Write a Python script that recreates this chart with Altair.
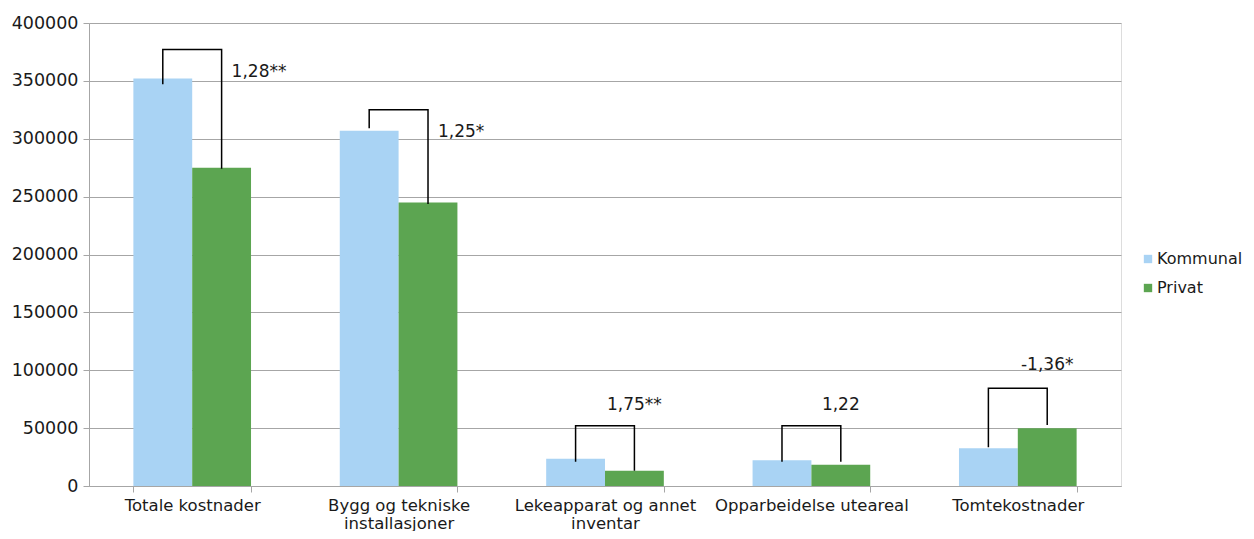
import altair as alt
import pandas as pd

categories = ["Totale kostnader", "Bygg og tekniske installasjoner",
              "Lekeapparat og annet inventar", "Opparbeidelse uteareal", "Tomtekostnader"]
label_lines = {
    "Bygg og tekniske installasjoner": ["Bygg og tekniske", "installasjoner"],
    "Lekeapparat og annet inventar": ["Lekeapparat og annet", "inventar"],
}
series = ["Kommunal", "Privat"]
kommunal = [352000, 307000, 23600, 22200, 32600]
privat = [275000, 245000, 13200, 18400, 50000]

# significance brackets: left foot, top, right foot
bracket_left = [347000, 309000, 21000, 21000, 33400]
bracket_top = [377000, 325000, 52000, 52000, 84400]
bracket_right = [274000, 243600, 13200, 21000, 52700]
ann_text = ["1,28**", "1,25*", "1,75**", "1,22", "-1,36*"]
ann_y = [357700, 305800, 70000, 70000, 104500]
ann_style = ["side", "side", "above", "above", "above"]

BLUE = "#A9D3F4"
GREEN = "#5CA551"
GRID = "#A6A6A6"
FONT = "DejaVu Sans"
FS = 17

bars = pd.DataFrame(
    [{"cat": c, "serie": "Kommunal", "v": k} for c, k in zip(categories, kommunal)]
    + [{"cat": c, "serie": "Privat", "v": p} for c, p in zip(categories, privat)]
)

rows = []
for i, c in enumerate(categories):
    rows += [
        {"cat": c, "serie": "Kommunal", "y": bracket_left[i], "o": 0, "g": i},
        {"cat": c, "serie": "Kommunal", "y": bracket_top[i], "o": 1, "g": i},
        {"cat": c, "serie": "Privat", "y": bracket_top[i], "o": 2, "g": i},
        {"cat": c, "serie": "Privat", "y": bracket_right[i], "o": 3, "g": i},
    ]
brackets = pd.DataFrame(rows)

ann = pd.DataFrame({"cat": categories, "serie": "Privat", "t": ann_text, "y": ann_y, "s": ann_style})

expr = "datum.label"
for k, v in label_lines.items():
    expr = f"datum.label == '{k}' ? {v!r} : ({expr})"

xscale = alt.Scale(domain=categories, paddingInner=0.43, paddingOuter=0.215)
yscale = alt.Scale(domain=[0, 400000])
xoff_scale = alt.Scale(domain=series, padding=0, paddingInner=0, paddingOuter=0)

x_enc = alt.X("cat:N", scale=xscale, sort=categories, title=None,
              axis=alt.Axis(labelAngle=0, labelExpr=expr, tickBand="extent",
                            tickSize=6, tickColor=GRID, domainColor=GRID,
                            labelFont=FONT, labelFontSize=16.5, labelColor="#1a1a1a",
                            labelPadding=5, labelLineHeight=18, labelLimit=0, grid=False))

bar_layer = alt.Chart(bars).mark_bar().encode(
    x=x_enc,
    xOffset=alt.XOffset("serie:N", scale=xoff_scale, sort=series),
    y=alt.Y("v:Q", scale=yscale, title=None,
            axis=alt.Axis(values=list(range(0, 400001, 50000)), format="d",
                          tickSize=6, tickColor=GRID, domainColor=GRID,
                          gridColor=GRID, labelFont=FONT, labelFontSize=17.5,
                          labelColor="#1a1a1a", labelPadding=5)),
    color=alt.Color("serie:N", sort=series,
                    scale=alt.Scale(domain=series, range=[BLUE, GREEN]),
                    legend=alt.Legend(title=None, orient="none", legendX=1051, legendY=228,
                                      symbolType="square", symbolSize=70,
                                      symbolStrokeWidth=0, labelFont=FONT,
                                      labelFontSize=16, labelColor="#1a1a1a",
                                      labelOffset=1, labelLimit=0, rowPadding=13,
                                      padding=0)),
)

bracket_layer = alt.Chart(brackets).mark_line(color="black", strokeWidth=1.5).encode(
    x=alt.X("cat:N", scale=xscale, sort=categories),
    xOffset=alt.XOffset("serie:N", scale=xoff_scale, sort=series),
    y=alt.Y("y:Q", scale=yscale),
    detail="g:N",
    order="o:Q",
)

side_layer = alt.Chart(ann).transform_filter("datum.s == 'side'").mark_text(
    align="left", baseline="middle", dx=10, font=FONT, fontSize=FS, color="#1a1a1a"
).encode(
    x=alt.X("cat:N", scale=xscale, sort=categories),
    xOffset=alt.XOffset("serie:N", scale=xoff_scale, sort=series),
    y=alt.Y("y:Q", scale=yscale),
    text="t:N",
)

above_layer = alt.Chart(ann).transform_filter("datum.s == 'above'").mark_text(
    align="center", baseline="middle", dx=0, font=FONT, fontSize=FS, color="#1a1a1a"
).encode(
    x=alt.X("cat:N", scale=xscale, sort=categories),
    xOffset=alt.XOffset("serie:N", scale=xoff_scale, sort=series),
    y=alt.Y("y:Q", scale=yscale),
    text="t:N",
)

chart = alt.layer(bar_layer, bracket_layer, side_layer, above_layer).properties(
    width=1032, height=463,
    autosize=alt.AutoSizeParams(type="none"),
    padding={"left": 81, "top": 15, "right": 125, "bottom": 45},
).configure_view(stroke=None).configure(background="white")

chart.save("out.html", embed_options={"renderer": "svg", "actions": False})
